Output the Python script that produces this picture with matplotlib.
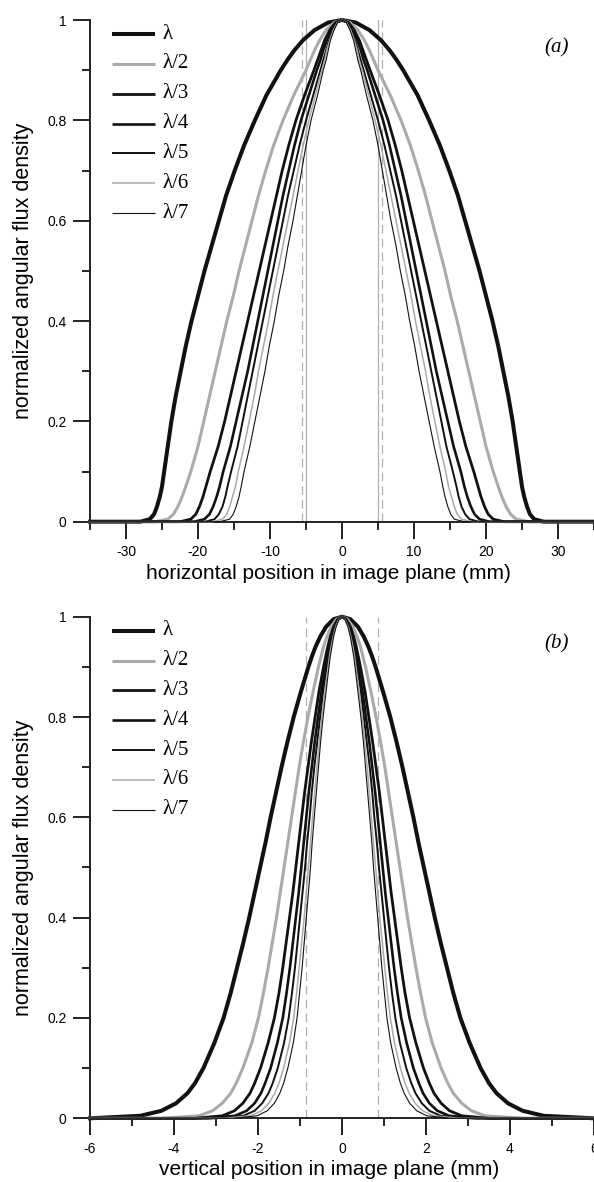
import numpy as np
import matplotlib
matplotlib.use("Agg")
import matplotlib.pyplot as plt

plt.rcParams["axes.unicode_minus"] = False

# half-profile levels (same for every curve), half widths
levels = [1.0, 0.995, 0.98, 0.96, 0.94, 0.92, 0.9, 0.85, 0.8, 0.75, 0.7, 0.65, 0.6, 0.55,
          0.5, 0.45, 0.4, 0.35, 0.3, 0.25, 0.2, 0.15, 0.1, 0.07, 0.05, 0.03, 0.015, 0.005, 0.0]

labels = ["λ", "λ/2", "λ/3", "λ/4", "λ/5", "λ/6", "λ/7"]

# panel (a): horizontal, mm
hw_a = {
    "λ":   [0, 1.9, 3.8, 5.4, 6.6, 7.6, 8.5, 10.5, 12.1, 13.6, 14.9, 16.1, 17.1, 18.1, 19.1,
            20.0, 20.9, 21.7, 22.4, 23.1, 23.7, 24.2, 24.7, 25.0, 25.3, 25.7, 26.1, 26.7, 28.0],
    "λ/2": [0, 1.1, 2.2, 3.1, 3.8, 4.4, 5.0, 6.7, 8.2, 9.5, 10.6, 11.6, 12.5, 13.4, 14.3,
            15.1, 16.0, 16.8, 17.6, 18.4, 19.2, 20.0, 21.0, 21.7, 22.2, 22.8, 23.4, 24.2, 26.0],
    "λ/3": [0, 0.9, 1.7, 2.4, 2.9, 3.4, 3.9, 5.2, 6.4, 7.4, 8.3, 9.1, 9.9, 10.7, 11.5,
            12.3, 13.1, 13.9, 14.7, 15.5, 16.3, 17.2, 18.3, 18.9, 19.3, 19.8, 20.3, 21.0, 22.5],
    "λ/4": [0, 0.8, 1.5, 2.1, 2.6, 3.0, 3.5, 4.6, 5.7, 6.6, 7.4, 8.2, 8.9, 9.6, 10.3,
            11.0, 11.7, 12.4, 13.1, 13.9, 14.7, 15.5, 16.5, 17.0, 17.4, 17.9, 18.4, 19.1, 20.5],
    "λ/5": [0, 0.7, 1.3, 1.8, 2.2, 2.6, 3.0, 4.0, 5.0, 5.9, 6.7, 7.5, 8.2, 8.9, 9.6,
            10.3, 11.0, 11.7, 12.4, 13.1, 13.8, 14.5, 15.4, 15.9, 16.2, 16.6, 17.1, 17.7, 19.0],
    "λ/6": [0, 0.65, 1.2, 1.7, 2.1, 2.4, 2.8, 3.7, 4.6, 5.4, 6.1, 6.8, 7.5, 8.2, 8.9,
            9.6, 10.2, 10.9, 11.6, 12.2, 12.9, 13.6, 14.4, 14.8, 15.2, 15.6, 16.0, 16.6, 18.0],
    "λ/7": [0, 0.6, 1.1, 1.6, 1.9, 2.2, 2.6, 3.4, 4.3, 5.0, 5.6, 6.2, 6.8, 7.5, 8.1,
            8.8, 9.4, 10.1, 10.7, 11.4, 12.1, 12.8, 13.6, 14.0, 14.3, 14.7, 15.1, 15.6, 17.0],
}

# panel (b): vertical, mm
hw_b = {
    "λ":   [0, 0.2, 0.38, 0.52, 0.63, 0.72, 0.8, 0.98, 1.15, 1.3, 1.44, 1.57, 1.7, 1.82, 1.95,
            2.08, 2.21, 2.35, 2.5, 2.65, 2.82, 3.04, 3.3, 3.5, 3.68, 3.95, 4.3, 4.8, 6.0],
    "λ/2": [0, 0.13, 0.26, 0.36, 0.44, 0.5, 0.56, 0.69, 0.81, 0.92, 1.02, 1.11, 1.2, 1.29, 1.38,
            1.47, 1.56, 1.66, 1.76, 1.87, 1.99, 2.15, 2.36, 2.52, 2.65, 2.85, 3.08, 3.4, 4.3],
    "λ/3": [0, 0.1, 0.2, 0.28, 0.34, 0.39, 0.44, 0.55, 0.64, 0.73, 0.81, 0.89, 0.96, 1.03, 1.1,
            1.17, 1.25, 1.33, 1.41, 1.5, 1.61, 1.76, 1.94, 2.08, 2.19, 2.36, 2.56, 2.85, 3.5],
    "λ/4": [0, 0.09, 0.18, 0.25, 0.3, 0.35, 0.39, 0.49, 0.57, 0.65, 0.72, 0.79, 0.85, 0.91, 0.97,
            1.03, 1.1, 1.17, 1.24, 1.32, 1.41, 1.54, 1.7, 1.83, 1.93, 2.08, 2.27, 2.55, 3.2],
    "λ/5": [0, 0.08, 0.16, 0.23, 0.28, 0.32, 0.36, 0.45, 0.52, 0.59, 0.66, 0.72, 0.77, 0.83, 0.88,
            0.94, 1.0, 1.06, 1.12, 1.19, 1.27, 1.38, 1.53, 1.65, 1.75, 1.9, 2.08, 2.35, 3.0],
    "λ/6": [0, 0.075, 0.15, 0.21, 0.26, 0.3, 0.33, 0.41, 0.48, 0.54, 0.6, 0.65, 0.7, 0.75, 0.8,
            0.85, 0.9, 0.96, 1.02, 1.08, 1.15, 1.25, 1.39, 1.5, 1.6, 1.74, 1.92, 2.18, 2.8],
    "λ/7": [0, 0.07, 0.14, 0.2, 0.24, 0.28, 0.31, 0.38, 0.45, 0.51, 0.56, 0.61, 0.66, 0.71, 0.75,
            0.8, 0.85, 0.9, 0.95, 1.01, 1.07, 1.16, 1.29, 1.39, 1.48, 1.61, 1.78, 2.02, 2.6],
}

marks_a_solid = [-5.0, 5.0]
marks_a_dashed = [-5.5, 5.5]
marks_b_dashed = [-0.85, 0.85]

colors = ["#111111", "#aaaaaa", "#111111", "#111111", "#111111", "#aaaaaa", "#111111"]
widths = [2.9, 2.2, 2.0, 1.9, 1.4, 1.1, 0.8]

sans = "Liberation Sans"
serif = "Liberation Serif"

fig = plt.figure(figsize=(5.94, 11.82), dpi=100)
ax_a = fig.add_axes([90 / 594, 1 - 521.7 / 1182, 504 / 594, 501.7 / 1182])
ax_b = fig.add_axes([90 / 594, 1 - 1118.3 / 1182, 504 / 594, 501.6 / 1182])


def profile(hw, lim):
    hw = np.array(hw)
    lv = np.array(levels)
    x = np.concatenate([[-lim], -hw[::-1], hw[1:], [lim]])
    y = np.concatenate([[0], lv[::-1], lv[1:], [0]])
    return x, y


def setup(ax, lim, major, minor, xlabel, tag):
    ax.set_xlim(-lim, lim)
    ax.set_ylim(0, 1)
    for s in ["top", "right"]:
        ax.spines[s].set_visible(False)
    for s in ["left", "bottom"]:
        ax.spines[s].set_linewidth(1.4)
        ax.spines[s].set_color("#222222")
    ax.set_xticks(np.arange(-lim + (lim % major), lim + 0.01, major))
    ax.set_xticks(np.arange(-lim, lim + 0.01, minor), minor=True)
    ax.set_yticks([0, 0.2, 0.4, 0.6, 0.8, 1])
    ax.set_yticklabels(["0", "0.2", "0.4", "0.6", "0.8", "1"])
    ax.set_yticks(np.arange(0.1, 1, 0.2), minor=True)
    ax.tick_params(which="major", length=12, width=1.4, color="#222222",
                   labelsize=10, pad=5)
    ax.tick_params(which="minor", length=6, width=1.4, color="#222222")
    for t in ax.get_xticklabels() + ax.get_yticklabels():
        t.set_fontfamily(sans)
    ax.set_xlabel(xlabel, fontsize=15, family=sans)
    ax.xaxis.set_label_coords(0.474, -0.084)
    ax.set_ylabel("normalized angular flux density", fontsize=15.5, family=sans)
    ax.yaxis.set_label_coords(-0.112, 0.5)
    ax.text(0.925, 0.945, "(" + tag + ")", transform=ax.transAxes, fontsize=15,
            family=serif, style="italic", ha="center", va="center")
    # legend
    for i, lab in enumerate(labels):
        yy = 0.972 - i * 0.0595
        ax.plot([0.0437, 0.129], [yy, yy], transform=ax.transAxes,
                color=colors[i], lw=widths[i], solid_capstyle="butt", clip_on=False)
        ax.text(0.143, yy, lab, transform=ax.transAxes, fontsize=15,
                family=serif, va="center", ha="left")


# panel (a)
for v in marks_a_solid:
    ax_a.axvline(v, color="#b0b0b0", lw=0.9)
for v in marks_a_dashed:
    ax_a.axvline(v, color="#b0b0b0", lw=0.9, ls=(0, (7, 4)))
for i, lab in enumerate(labels):
    x, y = profile(hw_a[lab], 35)
    ax_a.plot(x, y, color=colors[i], lw=widths[i], clip_on=False, zorder=3,
              solid_joinstyle="round")
setup(ax_a, 35, 10, 5, "horizontal position in image plane (mm)", "a")

# panel (b)
for v in marks_b_dashed:
    ax_b.axvline(v, color="#b0b0b0", lw=0.9, ls=(0, (7, 4)))
for i, lab in enumerate(labels):
    x, y = profile(hw_b[lab], 6)
    ax_b.plot(x, y, color=colors[i], lw=widths[i], clip_on=False, zorder=3,
              solid_joinstyle="round")
setup(ax_b, 6, 2, 1, "vertical position in image plane (mm)", "b")

fig.savefig("out.png", dpi=100)
